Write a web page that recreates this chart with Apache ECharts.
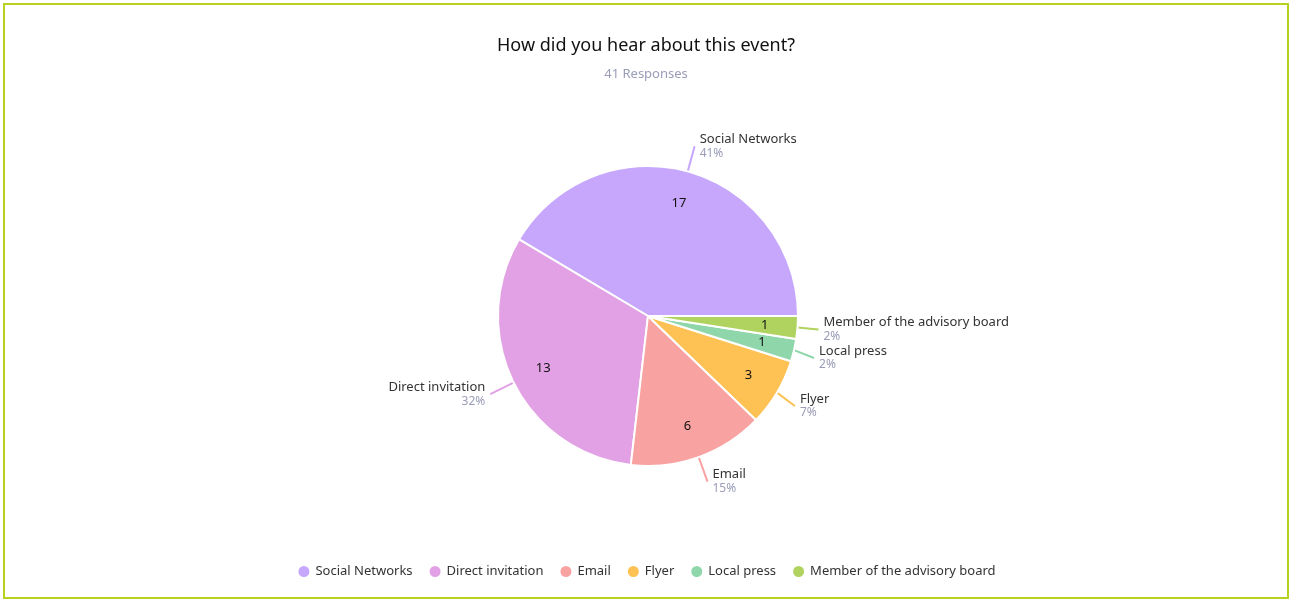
<!DOCTYPE html>
<html>
<head>
<meta charset="utf-8">
<script src="https://cdn.jsdelivr.net/npm/echarts@6/dist/echarts.min.js"></script>
<style>
  html, body { margin: 0; padding: 0; background: #fff; }
  #frame {
    position: absolute; left: 3px; top: 3px;
    width: 1282px; height: 592px;
    border: 2px solid #b7d11c;
  }
  #chart { width: 100%; height: 100%; }
</style>
</head>
<body>
<div id="frame"><div id="chart"></div></div>
<script>
var categories = ['Social Networks', 'Direct invitation', 'Email', 'Flyer', 'Local press', 'Member of the advisory board']
var counts = [17, 13, 6, 3, 1, 1]
var colors = ['#c6a7fb', '#e1a1e4', '#f8a3a2', '#fdc154', '#8fd7ab', '#b0d35f']
var totalResponses = 41

var fontFamily = '"Noto Sans", sans-serif'

var pieData = categories.map(function (name, i) {
  return { name: name, value: counts[i], itemStyle: { color: colors[i] } }
})

var chart = echarts.init(document.getElementById('chart'))
chart.setOption({
  textStyle: { fontFamily: fontFamily },
  title: {
    text: 'How did you hear about this event?',
    subtext: totalResponses + ' Responses',
    left: 'center',
    top: 27,
    itemGap: 13,
    textStyle: { fontSize: 18, fontWeight: 'normal', color: '#111', fontFamily: fontFamily },
    subtextStyle: { fontSize: 13, color: '#9a9cb8', fontFamily: fontFamily }
  },
  legend: {
    bottom: 13,
    left: 'center',
    icon: 'circle',
    itemWidth: 13,
    itemHeight: 13,
    itemGap: 15,
    textStyle: { fontSize: 13, color: '#333', fontFamily: fontFamily },
    data: categories
  },
  series: [
    {
      type: 'pie',
      center: [643, 311],
      radius: 150,
      startAngle: 0,
      clockwise: false,
      animation: false,
      itemStyle: { borderColor: '#fff', borderWidth: 2 },
      label: {
        show: true,
        position: 'outside',
        formatter: function (p) {
          return '{n|' + p.name + '}\n{p|' + Math.round(p.value / totalResponses * 100) + '%}'
        },
        rich: {
          n: { fontSize: 13, color: '#333', lineHeight: 14, fontFamily: fontFamily },
          p: { fontSize: 12, color: '#9a9cb8', lineHeight: 14, fontFamily: fontFamily }
        }
      },
      labelLine: { show: true, length: 26, length2: 0, lineStyle: { width: 2 } },
      emphasis: { disabled: true },
      data: pieData
    },
    {
      type: 'pie',
      center: [643, 311],
      radius: [78, 150],
      startAngle: 0,
      clockwise: false,
      animation: false,
      silent: true,
      itemStyle: { color: 'transparent', borderWidth: 0 },
      label: {
        show: true,
        position: 'inside',
        formatter: '{c}',
        fontSize: 13,
        color: '#111',
        fontFamily: fontFamily
      },
      labelLine: { show: false },
      emphasis: { disabled: true },
      data: categories.map(function (name, i) {
        return { name: name, value: counts[i], itemStyle: { color: 'transparent' } }
      })
    }
  ]
})
</script>
</body>
</html>
